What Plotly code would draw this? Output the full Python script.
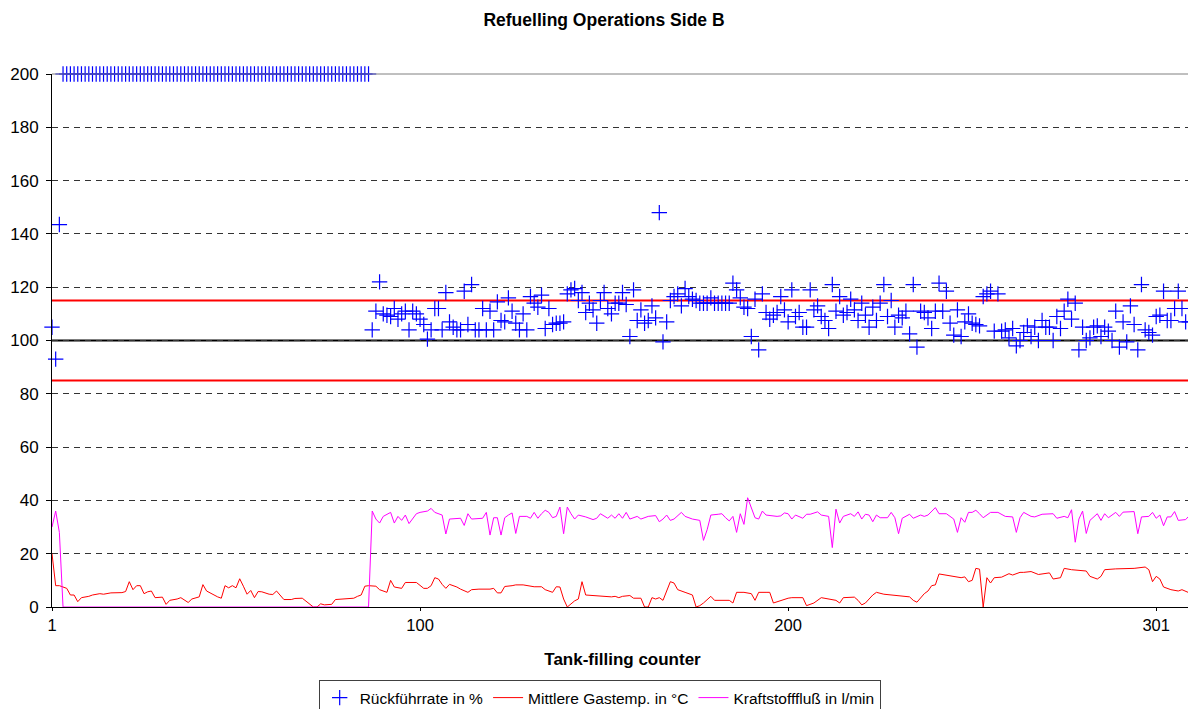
import plotly.graph_objects as go

# ---------------- data ----------------
title_text = "Refuelling Operations Side B"
x_title = "Tank-filling counter"
series_names = ["Rückführrate in %", "Mittlere Gastemp. in °C", "Kraftstofffluß in l/min"]

x_tick_vals = [1, 101, 201, 301]
x_tick_text = ["1", "100", "200", "301"]
y_tick_vals = [0, 20, 40, 60, 80, 100, 120, 140, 160, 180, 200]

limit_lower = 85
limit_target = 100
limit_upper = 115

# Rückführrate in % (one value per filling)
rueck_start = [105, 93, 143.5]
rueck_error = [200, 200, 200, 200, 200, 200, 200, 200, 200, 200, 200, 200, 200, 200,
               200, 200, 200, 200, 200, 200, 200, 200, 200, 200, 200, 200, 200, 200,
               200, 200, 200, 200, 200, 200, 200, 200, 200, 200, 200, 200, 200, 200,
               200, 200, 200, 200, 200, 200, 200, 200, 200, 200, 200, 200, 200, 200,
               200, 200, 200, 200, 200, 200, 200, 200, 200, 200, 200, 200, 200, 200,
               200, 200, 200, 200, 200, 200, 200, 200, 200, 200, 200, 200, 200, 200]
rueck_a = [104, 111, 122, 110, 109.5, 109, 112, 108, 110, 111, 104, 111, 110, 108, 106,
           100.5, 104, 112, 112, 104, 118, 107, 105, 104, 104, 118.5, 106, 121, 104, 104,
           112, 104, 111, 104, 114.5, 107.5, 107, 116, 111, 106.5, 104, 110, 104, 116.5, 114,
           112.5, 117, 104.5, 112, 106, 106.5, 106.5]
rueck_b = [107, 117.5, 119, 119.5, 115, 118, 110.5, 114, 111.5, 106.5, 115, 118, 112, 110,
           114, 114, 118, 113.5, 101.5, 119, 107.5, 111.5, 106.5, 107.5, 113, 108.5, 148, 99.5,
           107, 115, 116.5, 117.5, 113, 119.5, 116.5, 115.5, 115, 114, 114, 114, 116, 114, 114,
           114, 114, 114, 121.5, 119, 116, 112.5, 112, 101.5, 115.5, 96.5, 117.5, 110.5, 108]
rueck_c = [109.5, 110.5, 116.5, 111.5, 107, 119, 109, 110.5, 105, 105, 119, 111.5, 113, 109,
           107.5, 104.5, 121, 111, 116.5, 109.5, 110.5, 115.5, 111.5, 107.5, 114, 109.5, 105,
           112.5, 107.5, 114, 121, 109, 115, 105, 109.5, 108.5, 111, 102.5, 121, 97.5, 111,
           110.5, 108.5, 104.5, 111, 121.5, 111, 118.5, 106.5, 102, 111.5, 101.5, 107, 110,
           106.5, 106, 105.5, 116.5]
rueck_d = [117.5, 118.5, 103.5, 117.5, 103.5, 104, 101, 104.5, 98, 100, 103, 105.5, 101.5,
           105, 100, 107.5, 105, 105, 100, 109, 104.5, 111, 115.5, 108, 114, 96.5, 105, 100,
           101, 105, 105.5, 101.5, 105, 103.5, 100, 111, 97.5, 107, 99.5, 113, 106, 96.5, 121,
           104, 103, 102, 109, 109.5, 118.5, 107.5, 107.5, 112, 118.5, 112, 107, 107]
rueck = rueck_start + rueck_error + rueck_a + rueck_b + rueck_c + rueck_d
counter = list(range(1, len(rueck) + 1))

# Mittlere Gastemp. in °C (read at the vertices of the line)
gas_x = [1, 2, 3, 4, 5, 6, 7, 8, 9, 11, 12, 14, 15, 17, 20, 21, 22, 23, 24, 25, 26, 27, 28, 29,
         31, 32, 33, 35, 36, 38, 39, 41, 42, 43, 44, 46, 47, 48, 49, 50, 51, 52, 53, 54, 55,
         56, 57, 58, 60, 61, 62, 63, 64, 66, 67, 69, 71, 72, 73, 74, 75, 77, 78, 80, 81, 83,
         84, 85, 86, 87, 89, 90, 92, 93, 94, 96, 97, 100,
         102, 103, 104, 105, 106, 107, 108, 109, 111, 112, 114, 115, 117, 120, 121, 122, 123,
         124, 126, 127, 129, 130, 132, 134, 135, 137, 138, 139, 140, 141, 143, 144, 145, 146,
         148, 151, 153, 154, 155, 156, 158, 159, 161, 162, 163, 164, 165, 166, 167, 168, 169,
         170, 171, 173, 175, 176, 177, 178, 180, 181, 183, 185, 186, 187, 189, 191, 192, 193,
         195, 196, 197, 199, 201,
         202, 204, 205, 206, 208, 210, 212, 214, 215, 216, 219, 220, 221, 222, 224, 225, 227,
         230, 233, 234, 235, 236, 238, 239, 240, 241, 242, 244, 246, 248, 249, 250, 251, 252,
         253, 254, 255, 256, 257, 259, 261, 262, 264, 265, 267, 269, 272, 273, 275, 276, 278,
         282, 283, 285, 286, 287, 290, 293, 295, 298, 299, 300, 301, 302, 303, 305, 307, 308,
         310]
gas_y = [20, 8, 8, 7.5, 7, 4.5, 4.5, 2, 3.5, 4, 4.5, 5, 4.8, 5.3, 5.4, 5.8, 9.5, 6.5, 8, 8,
         5, 5.7, 6, 3.5, 3.7, 1, 2.5, 3, 3.5, 1.7, 3, 3.8, 8.4, 6, 5.2, 3.8, 3.3, 8, 7.2, 8,
         7.2, 10.6, 7.8, 4.8, 6.2, 3.5, 5.8, 5.7, 4.8, 4.7, 6, 4.5, 2.8, 2.8, 3.2, 3.3, 1, 0,
         0, 1.2, 0.8, 1, 2.8, 3, 3.3, 3.3, 4, 4.5, 7.8, 8, 7.8, 6.5, 5.5, 10, 7.5, 7, 9.2,
         9.2,
         7, 7, 8, 11, 10.5, 8.5, 7, 8.5, 7.5, 6.7, 5.5, 6.5, 6.7, 6.7, 7, 5.3, 5.3, 7.7, 8,
         8.3, 8.3, 8, 7.6, 7.6, 6.5, 5.5, 7.6, 7.5, 3, 0, 2.3, 3, 9.5, 4.5, 4.3, 4, 3.8, 4,
         3.5, 4, 4.3, 3.3, 3.3, 0, 0, 3.5, 3, 3.5, 2.5, 6, 9.5, 9, 6.5, 5.5, 4.5, 0, 0.5,
         1.5, 4, 2.5, 2.5, 2.5, 1.5, 5.5, 5.5, 5, 2.5, 5.5, 5.5, 5.5, 1.5, 2.5, 3.3,
         3.5, 3.6, 3.5, 0.5, 1.5, 3.5, 3, 2.5, 1.5, 3.5, 3.7, 2.5, 0.8, 1.5, 4.5, 5.5, 4.8,
         4.3, 3.8, 3.8, 2.5, 1.8, 5, 6, 8, 8.3, 12.4, 12, 11.5, 11, 11.3, 9.5, 10, 14.5, 14.2,
         0, 11, 9, 11, 11.2, 12.5, 12, 13, 13, 13.3, 12.2, 12.8, 10.5, 11, 14.5, 14, 13.5,
         11.5, 10.5, 11.5, 14, 14.3, 14.5, 14.5, 15, 14, 9.5, 11.5, 10.5, 7.5, 6.5, 6, 6.5,
         5.3]

# Kraftstofffluß in l/min (read at the vertices of the line)
flow_x = [1, 2, 3, 4, 87, 88, 89, 90, 91, 93, 94, 95, 96, 97, 98, 100, 101, 103, 104, 105,
          107, 108, 109, 111, 112, 113, 114, 115, 118, 119, 120, 121, 122, 123, 124, 125, 126,
          127, 128, 130, 131, 132, 133, 134, 135, 136, 137, 138, 139, 140, 141, 142, 143, 144,
          146, 148, 149, 150, 152, 153, 154, 155, 156, 157, 158, 160, 161, 163, 165, 166, 167,
          168, 169, 170, 172, 173, 175, 177, 178, 179, 180, 182, 183, 184, 185, 186, 187, 188,
          189, 190, 192, 193, 194, 195, 198, 199, 200, 201, 202, 203, 205, 206, 207, 209, 210,
          212, 213, 214, 215, 216, 218, 219, 220, 221, 222, 223, 224, 225, 226, 228, 229, 230,
          231, 232, 234, 235, 237, 238, 239, 241, 242, 244, 246, 247, 248, 249, 250, 251, 252,
          253, 254, 256, 258, 260, 262, 263, 264, 265, 267, 268, 270, 273, 274, 276, 277, 278,
          279, 280, 281, 282, 283, 285, 286, 287, 288, 290, 291, 292, 295, 296, 297, 299, 300,
          301, 302, 303, 304, 305, 306, 307, 309, 310]
flow_y = [30, 36, 28, 0, 0, 36, 33, 31.5, 34, 35.5, 31.5, 34, 32.5, 34.5, 31.3, 35, 35.5, 36,
          37, 35.5, 34.5, 27.4, 33, 33.3, 33.3, 30.6, 35, 33, 33.3, 35.5, 27, 33.5, 33.5, 27,
          33.5, 34.5, 35.3, 27.6, 34, 34, 33.3, 35.5, 33.3, 35, 36.3, 35.5, 33.5, 34, 37.5,
          27.5, 37.5, 35, 33, 34.5, 33.8, 32.8, 33.3, 35, 33.3, 34.5, 33.3, 35, 33.3, 35.5, 33,
          34, 33, 34, 34.3, 32, 33, 34.5, 32.5, 33, 35.5, 34, 33, 32.5, 25, 29, 34.5, 34.8, 35,
          33.5, 32.3, 34, 28, 35, 31, 41, 33.5, 33, 36, 34.5, 34, 34.2, 35.3, 35, 33, 34.5,
          33.3, 34.8, 34.8, 35.7, 34.5, 34, 22.3, 36.7, 31.5, 34, 35, 34, 35.7, 33, 34.8, 34.5,
          32, 34.5, 33.5, 33.5, 35.5, 33.5, 27.5, 33.3, 34.8, 33.3, 34.5, 34, 34.5, 37.3, 35,
          35, 33, 28, 33.5, 31.8, 35.5, 35.5, 36.3, 35, 33.5, 35.5, 35.5, 34, 33.8, 28, 33.5,
          35.5, 34, 33.8, 34.8, 35, 33.3, 34, 33.5, 36.5, 24.3, 33, 36, 27.6, 32.5, 35, 32.5,
          35, 33.5, 35.5, 34, 35.6, 35.8, 27.5, 33.8, 34, 35.5, 33.3, 34.5, 30.5, 33.8, 33.8,
          35.8, 32.5, 32.8, 34.3]

# ---------------- figure ----------------
FONT = "Arial, 'Liberation Sans', sans-serif"

fig = go.Figure()
fig.add_trace(go.Scatter(
    x=counter, y=rueck, mode="markers", name=series_names[0],
    marker=dict(symbol="cross-thin", size=11, line=dict(color="#0000FF", width=1.2),
                color="#0000FF"),
    cliponaxis=False,
))
fig.add_trace(go.Scatter(
    x=gas_x, y=gas_y, mode="lines", name=series_names[1],
    line=dict(color="#FF0000", width=1),
))
fig.add_trace(go.Scatter(
    x=flow_x, y=flow_y, mode="lines", name=series_names[2],
    line=dict(color="#FF00FF", width=1),
))

shapes = []
for yv, col in [(limit_upper, "#FF0000"), (limit_lower, "#FF0000"), (limit_target, "#000000")]:
    shapes.append(dict(type="line", xref="paper", x0=0, x1=1, yref="y", y0=yv, y1=yv,
                       line=dict(color=col, width=2), layer="below"))
# grey plot-area border on top and right
shapes.append(dict(type="line", xref="paper", x0=0, x1=1, yref="paper", y0=1, y1=1,
                   line=dict(color="#808080", width=1), layer="above"))
shapes.append(dict(type="line", xref="paper", x0=1, x1=1, yref="paper", y0=0, y1=1,
                   line=dict(color="#808080", width=1), layer="above"))

# the page body adds an 8px offset, so the figure is 8px smaller than the window
W, H = 1188, 701
fig.update_layout(
    width=W, height=H,
    margin=dict(l=44, r=3, t=66, b=102, autoexpand=False),
    paper_bgcolor="white", plot_bgcolor="white",
    font=dict(family=FONT, color="black", size=16),
    title=dict(text="<b>" + title_text + "</b>", x=596 / W, xref="container", xanchor="center",
               y=1 - 12 / H, yref="container", yanchor="middle",
               font=dict(family=FONT, size=17.5, color="black")),
    showlegend=True,
    legend=dict(orientation="h", x=0.48, xanchor="center", y=-0.137, yanchor="top",
                bordercolor="#404040", borderwidth=1, bgcolor="white",
                font=dict(family=FONT, size=15.5, color="black"),
                itemwidth=30, tracegroupgap=0),
    shapes=shapes,
)
fig.update_xaxes(
    range=[1, 311], tickmode="array", tickvals=x_tick_vals, ticktext=x_tick_text,
    ticks="outside", ticklen=3, tickcolor="black", tickwidth=1,
    showline=True, linecolor="black", linewidth=1, showgrid=False, zeroline=False,
    tickfont=dict(family=FONT, size=16.5, color="black"),
    title=dict(text="<b>" + x_title + "</b>", font=dict(family=FONT, size=17, color="black"),
               standoff=20),
    automargin=False,
)
fig.update_yaxes(
    range=[0, 200], tickmode="array", tickvals=y_tick_vals,
    ticks="outside", ticklen=5, tickcolor="black", tickwidth=1, ticklabelstandoff=4,
    showline=True, linecolor="black", linewidth=1,
    showgrid=True, gridcolor="#333333", gridwidth=1, griddash="6px,5px", zeroline=False,
    tickfont=dict(family=FONT, size=17, color="black"),
    automargin=False,
)

fig.write_html("out.html")
